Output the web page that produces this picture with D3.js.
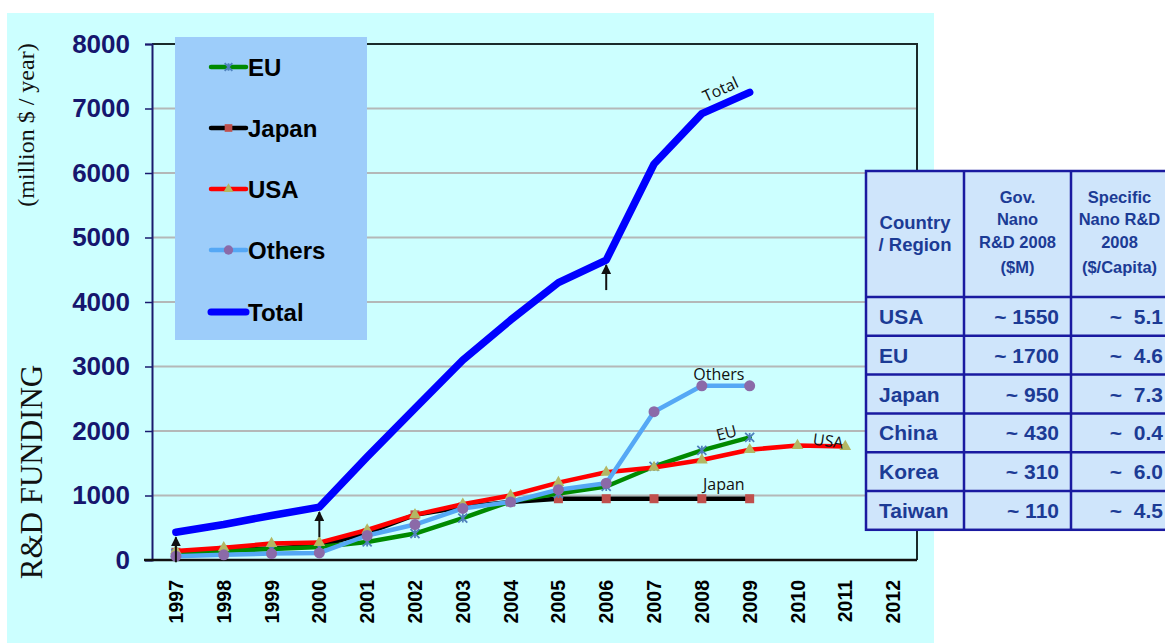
<!DOCTYPE html>
<html>
<head>
<meta charset="utf-8">
<script src="https://cdn.jsdelivr.net/npm/d3@7"></script>
<style>
html,body{margin:0;padding:0;background:#ffffff;}
svg{display:block;}
</style>
</head>
<body>
<svg id="chart" width="1165" height="643"></svg>
<script>
// ---------------- DATA ----------------
const years = ["1997","1998","1999","2000","2001","2002","2003","2004","2005","2006","2007","2008","2009","2010","2011","2012"];
const yTicks = [0,1000,2000,3000,4000,5000,6000,7000,8000];

const euYears = ["1997","1998","1999","2000","2001","2002","2003","2004","2005","2006","2007","2008","2009"];
const euValues = [100,140,170,200,280,410,650,910,1030,1140,1450,1700,1900];

const japanYears = ["1997","1998","1999","2000","2001","2002","2003","2004","2005","2006","2007","2008","2009"];
const japanValues = [120,150,180,220,420,700,820,900,950,950,950,950,950];

const usaYears = ["1997","1998","1999","2000","2001","2002","2003","2004","2005","2006","2007","2008","2009","2010","2011"];
const usaValues = [140,190,255,270,465,700,865,1000,1200,1360,1435,1550,1710,1775,1760];

const othersYears = ["1997","1998","1999","2000","2001","2002","2003","2004","2005","2006","2007","2008","2009"];
const othersValues = [60,80,100,110,380,550,800,900,1090,1190,2300,2700,2700];

const totalYears = ["1997","1998","1999","2000","2001","2002","2003","2004","2005","2006","2007","2008","2009"];
const totalValues = [430,550,690,820,1600,2350,3100,3720,4300,4650,6140,6920,7250];

const arrowYears = ["1997","2000","2006"];

const legendNames = ["EU","Japan","USA","Others","Total"];

const tableHeader1 = ["Country","/ Region"];
const tableHeader2 = ["Gov.","Nano","R&D 2008","($M)"];
const tableHeader3 = ["Specific","Nano R&D","2008","($/Capita)"];
const tableRegions = ["USA","EU","Japan","China","Korea","Taiwan"];
const tableGov = ["~ 1550","~ 1700","~ 950","~ 430","~ 310","~ 110"];
const tablePerCapita = ["~  5.1","~  4.6","~  7.3","~  0.4","~  6.0","~  4.5"];

// ---------------- STYLE ----------------
const series = [
  {name:"Japan",  years:japanYears,  values:japanValues,  color:"#000000", width:4.5, marker:"square",   mcolor:"#c0504d"},
  {name:"EU",     years:euYears,     values:euValues,     color:"#008a00", width:4.5, marker:"asterisk", mcolor:"#4f81bd"},
  {name:"USA",    years:usaYears,    values:usaValues,    color:"#ff0000", width:4.5, marker:"triangle", mcolor:"#b3b763"},
  {name:"Others", years:othersYears, values:othersValues, color:"#55a8f5", width:4.5, marker:"circle",   mcolor:"#8b6aa8"},
  {name:"Total",  years:totalYears,  values:totalValues,  color:"#0000ff", width:7.5, marker:null,       mcolor:null}
];
const byName = Object.fromEntries(series.map(s=>[s.name,s]));

const svg = d3.select("#chart");
const L = 152, R = 917, T = 44, B = 560;

// background
svg.append("rect").attr("x",7).attr("y",13).attr("width",927).attr("height",630).attr("fill","#ccffff");

const x = d3.scaleBand().domain(years).range([L,R]);
const cx = d => x(d) + x.bandwidth()/2;
const y = d3.scaleLinear().domain([0,8000]).range([B,T]);

// gridlines
svg.append("g").selectAll("line").data(yTicks.filter(t=>t>0 && t<8000)).join("line")
  .attr("x1",L).attr("x2",R).attr("y1",d=>y(d)).attr("y2",d=>y(d))
  .attr("stroke","#b4b8b8").attr("stroke-width",2);

// frame top and right
svg.append("path").attr("d",`M${L},${y(8000)}H${R}V${B}`).attr("fill","none")
  .attr("stroke","#1a2a2a").attr("stroke-width",2);

// y axis
const yAxis = d3.axisLeft(y).tickValues(yTicks).tickSize(7).tickPadding(15).tickFormat(d3.format("d"));
const gy = svg.append("g").attr("transform",`translate(${L},0)`).call(yAxis);
gy.select(".domain").attr("stroke","#1a1a6e").attr("stroke-width",2);
gy.selectAll(".tick line").attr("stroke","#1a1a6e").attr("stroke-width",1.5);
gy.selectAll(".tick text").attr("fill","#16166e").attr("font-family","Liberation Sans, Arial, sans-serif")
  .attr("font-weight","bold").attr("font-size",26);

// x axis
const xAxis = d3.axisBottom(x).tickSize(0).tickPadding(0);
const gx = svg.append("g").attr("transform",`translate(0,${B})`).call(xAxis);
gx.select(".domain").attr("stroke","#111").attr("stroke-width",2.5).attr("d",`M${L-8},0H${R}`);
gx.selectAll(".tick text")
  .attr("font-family","Liberation Sans, Arial, sans-serif").attr("font-weight","bold").attr("font-size",19.5)
  .attr("fill","#000").attr("text-anchor","end").attr("dy","0.36em")
  .attr("transform","translate(0,20) rotate(-90)").attr("x",0).attr("y",0);

// axis titles
svg.append("text").attr("transform","translate(42,472) rotate(-90)")
  .attr("text-anchor","middle").attr("font-family","Liberation Serif, Times New Roman, serif")
  .attr("font-size",31).attr("fill","#111").text("R&D FUNDING");
svg.append("text").attr("transform","translate(34,125) rotate(-90)")
  .attr("text-anchor","middle").attr("font-family","Liberation Serif, Times New Roman, serif")
  .attr("font-size",24).attr("fill","#111").text("(million $ / year)");

// marker drawing
function drawMarker(g, type, color, size){
  if(type==="square"){
    g.append("rect").attr("x",-4.5*size).attr("y",-4.5*size).attr("width",9*size).attr("height",9*size).attr("fill",color);
  } else if(type==="circle"){
    g.append("circle").attr("r",5.5*size).attr("fill",color);
  } else if(type==="triangle"){
    g.append("path").attr("d",d3.symbol(d3.symbolTriangle, 60*size*size)()).attr("fill",color);
  } else if(type==="asterisk"){
    const s = 4.5*size;
    g.append("path").attr("d",`M${-s},${-s}L${s},${s}M${-s},${s}L${s},${-s}M0,${-s}V${s}`)
      .attr("stroke",color).attr("stroke-width",1.8).attr("fill","none");
  }
}

// lines
const line = d3.line().x(d=>cx(d[0])).y(d=>y(d[1]));
series.forEach(s=>{
  const pts = s.years.map((yr,i)=>[yr,s.values[i]]);
  const g = svg.append("g");
  g.append("path").datum(pts).attr("d",line).attr("fill","none")
    .attr("stroke",s.color).attr("stroke-width",s.width).attr("stroke-linejoin","round").attr("stroke-linecap","round");
  if(s.marker){
    pts.forEach(p=>{
      const mg = g.append("g").attr("transform",`translate(${cx(p[0])},${y(p[1])})`);
      drawMarker(mg, s.marker, s.mcolor, 1);
    });
  }
});

// arrows
svg.append("defs").append("marker").attr("id","ah").attr("viewBox","0 0 10 10").attr("refX",9).attr("refY",5)
  .attr("markerWidth",5).attr("markerHeight",5).attr("orient","auto")
  .append("path").attr("d","M0,0L10,5L0,10z").attr("fill","#111");
arrowYears.forEach(yr=>{
  const v = totalValues[totalYears.indexOf(yr)];
  const tip = y(v) + 5;
  svg.append("line").attr("x1",cx(yr)).attr("x2",cx(yr)).attr("y1",tip+25).attr("y2",tip)
    .attr("stroke","#111").attr("stroke-width",2).attr("marker-end","url(#ah)");
});

// series labels
const lblFont = "Open Sans, DejaVu Sans, sans-serif";
function seriesLabel(txt, xx, yy, rot){
  svg.append("text").attr("transform",`translate(${xx},${yy}) rotate(${rot})`)
    .attr("text-anchor","middle").attr("font-family",lblFont).attr("font-size",16).attr("fill","#111").text(txt);
}
seriesLabel("Total", cx("2008")+21, y(7000)-14, -25);
seriesLabel("Others", cx("2008")+17, y(2700)-6, 0);
seriesLabel("EU", cx("2008")+26, y(1900)+1, -15);
seriesLabel("USA", cx("2010")+30, y(1775)+1, 8);
seriesLabel("Japan", cx("2008")+22, y(950)-9, 0);

// legend
svg.append("rect").attr("x",175).attr("y",37).attr("width",192).attr("height",303).attr("fill","#9dcdfa");
const legY = [67,128,189,250,312];
legendNames.forEach((n,i)=>{
  const s = byName[n];
  const g = svg.append("g").attr("transform",`translate(0,${legY[i]})`);
  g.append("line").attr("x1",211).attr("x2",246).attr("y1",0).attr("y2",0)
    .attr("stroke",s.color).attr("stroke-width",s.name==="Total"?7:4.5).attr("stroke-linecap","round");
  if(s.marker){
    const mg = g.append("g").attr("transform","translate(228.5,0)");
    drawMarker(mg, s.marker, s.mcolor, 0.85);
  }
  g.append("text").attr("x",248).attr("y",8.5).attr("font-family","Liberation Sans, Arial, sans-serif")
    .attr("font-weight","bold").attr("font-size",24).attr("fill","#000").text(n);
});

// table
const tX = [866, 964, 1071, 1172];
const tTop = 171, tHead = 297, rowH = 38.8;
const tColor = "#1c3b95", tBorder = "#1a1aa0";
const tg = svg.append("g");
tg.append("rect").attr("x",tX[0]).attr("y",tTop).attr("width",tX[3]-tX[0]).attr("height",tHead-tTop+rowH*tableRegions.length)
  .attr("fill","#cfe5fb").attr("stroke",tBorder).attr("stroke-width",2.5);
[tX[1],tX[2]].forEach(xx=>tg.append("line").attr("x1",xx).attr("x2",xx).attr("y1",tTop).attr("y2",tHead+rowH*tableRegions.length)
  .attr("stroke",tBorder).attr("stroke-width",2.5));
tableRegions.forEach((r,i)=>{
  tg.append("line").attr("x1",tX[0]).attr("x2",tX[3]).attr("y1",tHead+rowH*i).attr("y2",tHead+rowH*i)
    .attr("stroke",tBorder).attr("stroke-width",2.5);
});
const tf = "Liberation Sans, Arial, sans-serif";
function tText(txt, xx, yy, anchor, size){
  tg.append("text").attr("x",xx).attr("y",yy).attr("text-anchor",anchor).attr("font-family",tf)
    .attr("font-weight","bold").attr("font-size",size).attr("fill",tColor).attr("xml:space","preserve").text(txt);
}
tableHeader1.forEach((t,i)=>tText(t,(tX[0]+tX[1])/2,[229,251][i],"middle",18.5));
tableHeader2.forEach((t,i)=>tText(t,(tX[1]+tX[2])/2,[203,225,248,273][i],"middle",16.5));
tableHeader3.forEach((t,i)=>tText(t,(tX[2]+tX[3])/2 - 2,[203,225,248,273][i],"middle",16.5));
tableRegions.forEach((r,i)=>{
  const base = tHead + rowH*i + rowH/2 + 7.5;
  tText(r, 879, base, "start", 21);
  tText(tableGov[i], 1059, base, "end", 21);
  tText(tablePerCapita[i], 1163, base, "end", 21);
});
</script>
</body>
</html>
